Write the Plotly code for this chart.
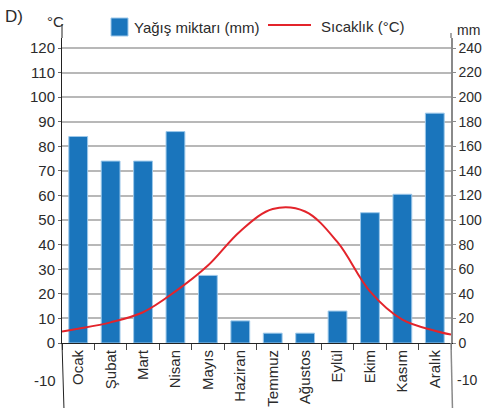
import plotly.graph_objects as go

# ---------------- data ----------------
months = ["Ocak", "Şubat", "Mart", "Nisan", "Mayıs", "Haziran",
          "Temmuz", "Ağustos", "Eylül", "Ekim", "Kasım", "Aralık"]
precip_mm = [168, 148, 148, 172, 55, 18, 8, 8, 26, 106, 121, 187]
temp_c = [5.8, 8.4, 12.5, 21, 31.5, 45.5, 54.5, 53.5, 41, 21, 9.5, 5]
temp_start_c = 4.7   # curve value at the left edge of the chart
temp_end_c = 3.4     # curve value at the right edge of the chart
temp_ticks = list(range(0, 121, 10))
precip_ticks = list(range(0, 241, 20))
legend_bar = "Yağış miktarı (mm)"
legend_line = "Sıcaklık (°C)"

# ---------------- layout geometry ----------------
W, H = 482, 408
L, R, T, B = 62, 31, 38, 65
PW, PH = W - L - R, H - T - B


def px(x):
    return (x - L) / PW


def py(y):
    return (H - B - y) / PH


FONT = "Liberation Sans, Arial, sans-serif"
TXT = "#2b2b2b"
FS = 15
FS_R = 14
idx = list(range(len(months)))
temp_max = 120 * PH / ((H - B) - 48)
mm_max = temp_max * 2

fig = go.Figure()
fig.add_trace(go.Bar(
    x=idx, y=precip_mm, yaxis="y", width=0.58,
    marker=dict(color="#1a75bc", line=dict(color="#9cc8ea", width=1)),
    showlegend=False, hoverinfo="skip"))
fig.add_trace(go.Scatter(
    x=[-0.5] + idx + [len(months) - 0.5],
    y=[temp_start_c] + temp_c + [temp_end_c],
    yaxis="y2", mode="lines", line=dict(color="#e3242b", width=2, shape="spline", smoothing=1.0),
    showlegend=False, hoverinfo="skip"))

fig.update_layout(
    width=W, height=H, margin=dict(l=L, r=R, t=T, b=B, pad=0, autoexpand=False),
    paper_bgcolor="white", plot_bgcolor="white",
    font=dict(family=FONT, size=FS, color=TXT),
    xaxis=dict(range=[-0.5, len(months) - 0.5], tickvals=idx, ticktext=months,
               tickangle=-90, ticks="", showgrid=False, zeroline=False, automargin=False,
               showline=True, linecolor="#222", linewidth=1,
               tickfont=dict(size=FS, color=TXT),
               minor=dict(tickvals=[i - 0.5 for i in range(len(months) + 1)],
                          ticks="outside", ticklen=6, tickcolor="#444", tickwidth=1,
                          showgrid=False)),
    yaxis=dict(side="right", range=[0, mm_max], tickvals=precip_ticks, automargin=False,
               showgrid=True, gridcolor="#b8b8b8", gridwidth=1.5, zeroline=False,
               showline=True, linecolor="#8a8a8a", linewidth=1.5,
               ticks="outside", ticklen=3, tickcolor="#8a8a8a",
               tickfont=dict(size=FS_R, color=TXT)),
    yaxis2=dict(side="left", overlaying="y", range=[0, temp_max], tickvals=temp_ticks,
                showgrid=False, zeroline=False, automargin=False,
                showline=True, linecolor="#222", linewidth=1,
                ticks="outside", ticklen=3, tickcolor="#666",
                tickfont=dict(size=FS, color=TXT)),
    bargap=0.4,
)

shapes = [
    # legend symbols
    dict(type="rect", xref="paper", yref="paper", x0=px(111), x1=px(128), y0=py(36), y1=py(18),
         fillcolor="#1a75bc", line=dict(color="#9cc8ea", width=1)),
    dict(type="line", xref="paper", yref="paper", x0=px(268), x1=px(311), y0=py(25), y1=py(25),
         line=dict(color="#e3242b", width=2)),
    # axis lines extending below zero and above top
    dict(type="line", xref="paper", yref="paper", x0=px(62), x1=px(64), y0=py(343), y1=py(410),
         line=dict(color="#222", width=1)),
    dict(type="line", xref="paper", yref="paper", x0=px(451), x1=px(452.5), y0=py(343), y1=py(410),
         line=dict(color="#8a8a8a", width=1.5)),
    dict(type="line", xref="paper", yref="paper", x0=px(62), x1=px(62), y0=py(38), y1=py(24),
         line=dict(color="#222", width=1)),
    dict(type="line", xref="paper", yref="paper", x0=px(451), x1=px(451), y0=py(38), y1=py(33),
         line=dict(color="#8a8a8a", width=1.5)),
]
fig.update_layout(shapes=shapes)

ann = [
    dict(text="D)", x=px(3), y=py(16), xanchor="left", yanchor="middle", font=dict(size=17, color=TXT)),
    dict(text="°C", x=px(55), y=py(22), xanchor="center", yanchor="middle", font=dict(size=FS, color=TXT)),
    dict(text="mm", x=px(455), y=py(30), xanchor="left", yanchor="middle", font=dict(size=FS_R, color=TXT)),
    dict(text=legend_bar, x=px(132), y=py(27), xanchor="left", yanchor="middle", font=dict(size=FS, color=TXT)),
    dict(text=legend_line, x=px(319), y=py(26), xanchor="left", yanchor="middle", font=dict(size=FS, color=TXT)),
    dict(text="-10", x=px(58), y=py(380), xanchor="right", yanchor="middle", font=dict(size=FS, color=TXT)),
    dict(text="-10", x=px(455), y=py(380), xanchor="left", yanchor="middle", font=dict(size=FS_R, color=TXT)),
]
for a in ann:
    a.update(xref="paper", yref="paper", showarrow=False)
fig.update_layout(annotations=ann)

fig.write_html("out.html", config={"displayModeBar": False},
               post_script="document.body.style.margin='0';document.body.style.overflow='hidden';")
